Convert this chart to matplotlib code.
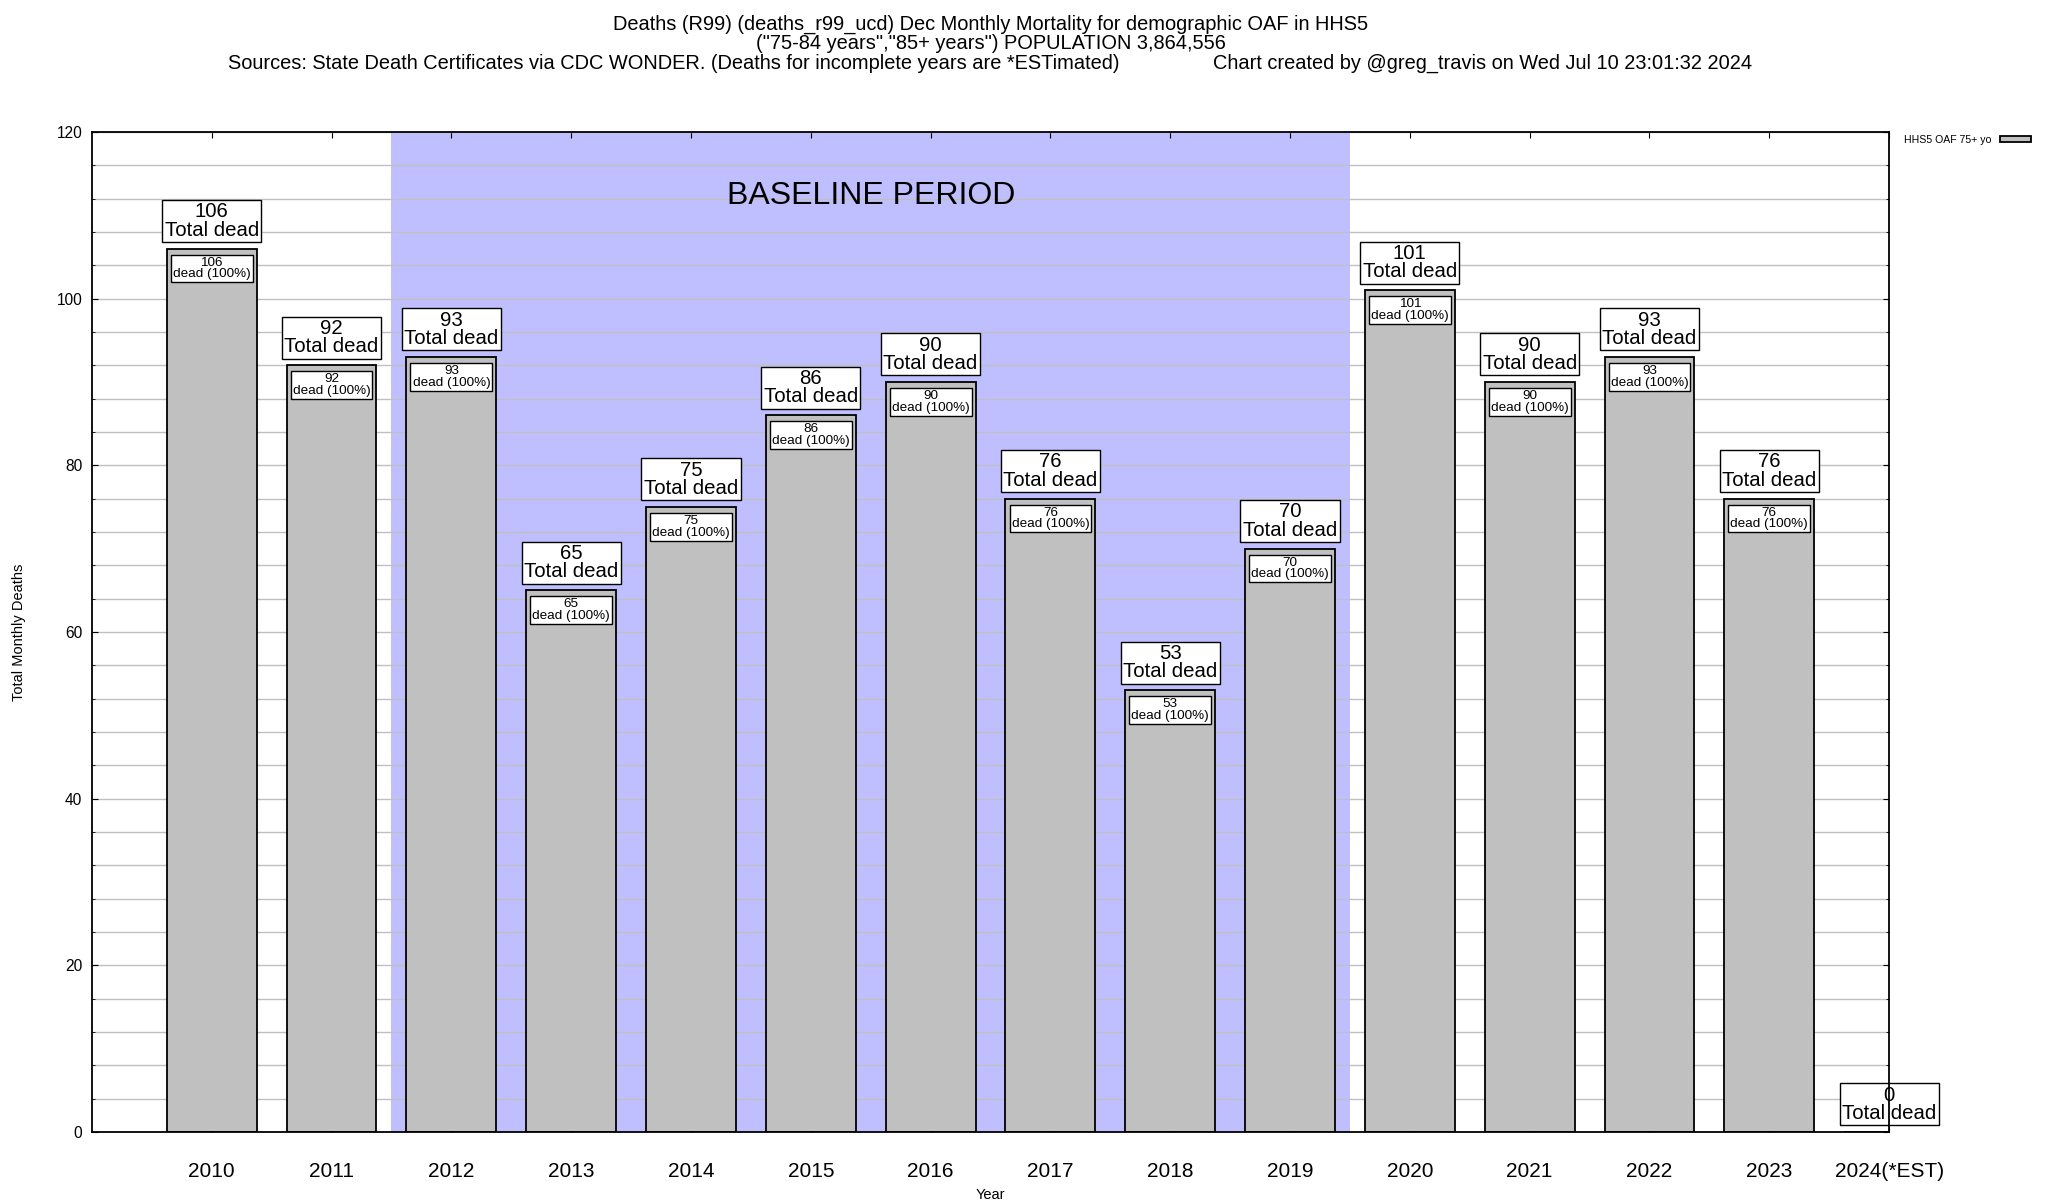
import numpy as np
import matplotlib.pyplot as plt
from matplotlib.ticker import MultipleLocator

plt.rcParams['font.family'] = ['Liberation Sans', 'DejaVu Sans']

# data
years = ['2010', '2011', '2012', '2013', '2014', '2015', '2016', '2017',
         '2018', '2019', '2020', '2021', '2022', '2023', '2024(*EST)']
deaths = [106, 92, 93, 65, 75, 86, 90, 76, 53, 70, 101, 90, 93, 76, 0]
baseline = (2012, 2019)

title1 = 'Deaths (R99) (deaths_r99_ucd) Dec Monthly Mortality for demographic OAF in HHS5'
title2 = '("75-84 years","85+ years") POPULATION 3,864,556'
title3 = ('Sources: State Death Certificates via CDC WONDER. (Deaths for incomplete years are *ESTimated)'
          + ' ' * 17 + 'Chart created by @greg_travis on Wed Jul 10 23:01:32 2024')

fig = plt.figure(figsize=(20.48, 12), dpi=100)
ax = fig.add_axes([0.0449, 0.0567, 0.8775, 0.8333])

x = np.arange(len(years))
b0 = int(baseline[0]) - 2010
b1 = int(baseline[1]) - 2010

# baseline shading
ax.axvspan(b0 - 0.5, b1 + 0.5, color='#bfbfff', zorder=0.2, lw=0)
ax.text((b0 + b1) / 2, 112.3, 'BASELINE PERIOD', ha='center', va='center',
        fontsize=23, zorder=1)

ax.bar(x, deaths, width=0.75, color='#c0c0c0', edgecolor='black', linewidth=1.3,
       zorder=2, label='HHS5 OAF 75+ yo')

for xi, v in zip(x, deaths):
    ax.annotate('%d\nTotal dead' % v, (xi, v), xytext=(0, 6.5), textcoords='offset points',
                ha='center', va='bottom', fontsize=14.7, linespacing=0.95,
                bbox=dict(boxstyle='square,pad=0.12', fc='white', ec='black', lw=1),
                zorder=2.4, annotation_clip=False)
    if v > 0:
        ax.annotate('%d\ndead (100%%)' % v, (xi, v), xytext=(0, -5.8), textcoords='offset points',
                    ha='center', va='top', fontsize=9.7, linespacing=0.95,
                    bbox=dict(boxstyle='square,pad=0.15', fc='white', ec='black', lw=1),
                    zorder=3)

ax.set_xlim(-1, len(years) - 1)
ax.set_ylim(0, 120)
ax.set_xticks(x)
ax.set_xticklabels(years, fontsize=15)
ax.yaxis.set_major_locator(MultipleLocator(20))
ax.yaxis.set_minor_locator(MultipleLocator(4))
ax.tick_params(axis='y', which='major', labelsize=11.2, direction='in', length=4, pad=7,
               left=True, right=True)
ax.tick_params(axis='y', which='minor', direction='in', length=2.5, left=True, right=True)
ax.tick_params(axis='x', direction='in', length=4.3, pad=21.5, top=True, bottom=True)

ax.set_axisbelow(True)
ax.grid(axis='y', which='both', color='#c0c0c0', lw=1)
for s in ax.spines.values():
    s.set_linewidth(1.3)

ax.set_ylabel('Total Monthly Deaths', fontsize=10.5, labelpad=22)
ax.set_xlabel('Year', fontsize=10.5, labelpad=5.5)

ax.legend(loc='upper left', bbox_to_anchor=(1.003, 1.007), frameon=False, markerfirst=False,
          fontsize=7.6, handlelength=3.0, handleheight=0.55)

cx = 0.0449 + 0.8775 / 2
fig.text(cx, 0.980, title1, ha='center', va='center', fontsize=14.4)
fig.text(cx, 0.964, title2, ha='center', va='center', fontsize=14.4)
fig.text(cx, 0.947, title3, ha='center', va='center', fontsize=14.4)

fig.savefig('out.png', dpi=100)
